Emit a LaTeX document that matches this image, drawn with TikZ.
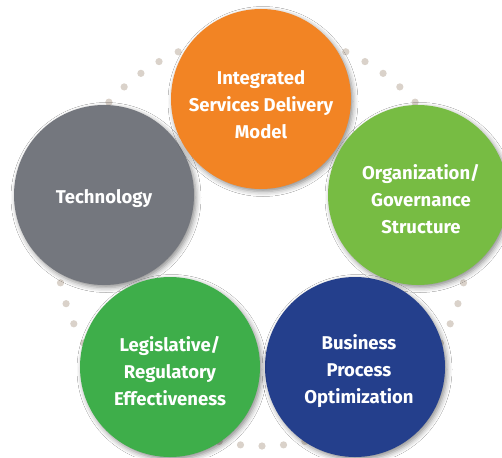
\documentclass[tikz,border=0pt]{standalone}
\usepackage{fontspec}
\setmainfont{Fira Sans}
\usetikzlibrary{shadows.blur}
\definecolor{cOrange}{RGB}{242,132,36}
\definecolor{cLime}{RGB}{119,188,67}
\definecolor{cGreen}{RGB}{62,174,74}
\definecolor{cBlue}{RGB}{36,63,140}
\definecolor{cGray}{RGB}{116,119,126}
\definecolor{cDot}{RGB}{218,210,202}
\tikzset{
  bubble/.style={circle, minimum size=180pt, inner sep=0pt, draw=none,
    blur shadow={shadow xshift=2pt, shadow yshift=-2.5pt, shadow blur radius=5pt, shadow opacity=45}},
  lbl/.style={text=white, font=\fontsize{18.5}{27}\selectfont\bfseries, align=center, inner sep=0pt},
  dot/.style={fill=cDot}
}
\begin{document}
\begin{tikzpicture}[x=1pt,y=-1pt]
\useasboundingbox (0,0) rectangle (502,457);
\fill[white] (0,0) rectangle (502,457);
% dotted ring
\foreach \a in {0,6,...,354}{
  \fill[dot] ({262+206*cos(\a)},{240-206*sin(\a)}) circle (3.6);
}
\node[bubble, fill=cGray]   (tech) at (104,195) {};
\node[bubble, fill=cOrange] (isdm) at (261,99) {};
\node[bubble, fill=cLime]   (org)  at (418,195) {};
\node[bubble, fill=cBlue]   (bpo)  at (355,367) {};
\node[bubble, fill=cGreen]  (leg)  at (170,367) {};
\node[lbl] (tTech) at ([yshift=-4pt]tech.center) {Technology};
\node[lbl] (tIsdm) at ([yshift=-6pt]isdm.center) {Integrated\\Services Delivery\\Model};
\node[lbl] (tOrg)  at ([xshift=3pt,yshift=-4pt]org.center) {Organization/\\Governance\\Structure};
\node[lbl] (tBpo)  at ([xshift=4pt,yshift=-4pt]bpo.center) {Business\\Process\\Optimization};
\node[lbl] (tLeg)  at ([yshift=-4pt]leg.center) {Legislative/\\Regulatory\\Effectiveness};
\end{tikzpicture}
\end{document}
